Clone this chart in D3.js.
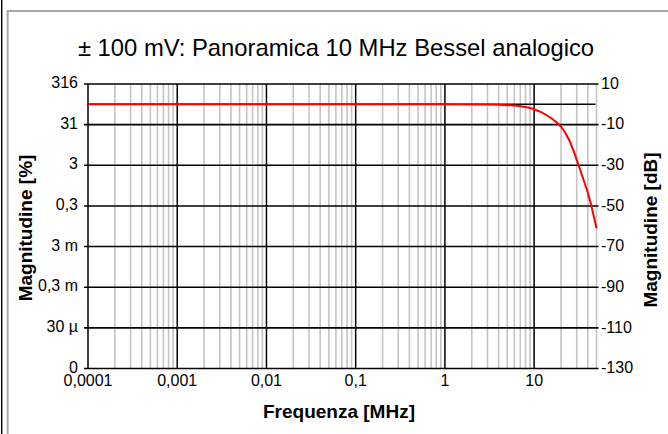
<!DOCTYPE html>
<html>
<head>
<meta charset="utf-8">
<script src="https://cdn.jsdelivr.net/npm/d3@7"></script>
<style>
  html, body { margin: 0; padding: 0; background: #fff; }
  svg { display: block; }
  text { font-family: "Liberation Sans", Arial, sans-serif; fill: #000; }
</style>
</head>
<body>
<script>
// Frequency axis: decades with labels (Italian decimal comma)
const decades = [0.0001, 0.001, 0.01, 0.1, 1, 10];
const decadeLabels = ["0,0001", "0,001", "0,01", "0,1", "1", "10"];

// Magnitude axis: gridlines every 20 dB, with percent equivalents on the left
const dbTicks = [10, -10, -30, -50, -70, -90, -110, -130];
const dbLabels = ["10", "-10", "-30", "-50", "-70", "-90", "-110", "-130"];
const pctLabels = ["316", "31", "3", "0,3", "3 m", "0,3 m", "30 µ", "0"];
const extraDbLines = [0];

// Measured response of the 10 MHz analog Bessel filter (± 100 mV range)
const freqMHz = [0.0001, 0.001, 0.01, 0.1, 1, 2, 3, 4, 5, 6, 7, 8, 9, 10, 12, 14, 16, 18, 20, 22, 25, 28, 30, 33, 36, 40, 43, 46, 50];
const magDb   = [0, 0, 0, 0, 0, -0.05, -0.1, -0.2, -0.4, -0.6, -0.9, -1.3, -1.8, -2.4, -3.8, -5.5, -7.2, -9, -11, -13.5, -18, -23.5, -27.3, -32.5, -37.5, -43.5, -48.5, -54, -61];

const W = 668, H = 434;
const svg = d3.select("body").append("svg").attr("width", W).attr("height", H);

// Outer frame
svg.append("line").attr("x1", 1.7).attr("x2", 1.7).attr("y1", 0).attr("y2", H)
  .attr("stroke", "#000").attr("stroke-width", 1.4);
svg.append("path").attr("d", `M7.7,${H} V11 H${W}`)
  .attr("fill", "none").attr("stroke", "#a8a8a8").attr("stroke-width", 2);

const x = d3.scaleLog().domain([0.0001, 50]).range([88, 596.5]);
const y = d3.scaleLinear().domain([10, -130]).range([84, 368.5]);
const [x0, x1] = x.range();

// Minor vertical gridlines (2..9 in every decade)
const minor = [];
decades.forEach(d => { for (let k = 2; k <= 9; k++) { const v = d * k; if (v <= 50.0001) minor.push(v); } });
svg.append("g").selectAll("line").data(minor).join("line")
  .attr("x1", d => x(d)).attr("x2", d => x(d))
  .attr("y1", y(10)).attr("y2", y(-130))
  .attr("stroke", "#c4c4c4").attr("stroke-width", 1.6);

// Major vertical gridlines at decades
svg.append("g").selectAll("line").data(decades).join("line")
  .attr("x1", d => x(d)).attr("x2", d => x(d))
  .attr("y1", y(10)).attr("y2", y(-130))
  .attr("stroke", "#000").attr("stroke-width", 1.5);

// Horizontal gridlines with ticks on both sides
svg.append("g").selectAll("line").data(dbTicks).join("line")
  .attr("x1", x0 - 4).attr("x2", x1 + 2)
  .attr("y1", d => y(d)).attr("y2", d => y(d))
  .attr("stroke", "#000").attr("stroke-width", 1.6);
svg.append("g").selectAll("line").data(extraDbLines).join("line")
  .attr("x1", x0).attr("x2", x1 - 1)
  .attr("y1", d => y(d)).attr("y2", d => y(d))
  .attr("stroke", "#000").attr("stroke-width", 1.6);

// Response curve
const line = d3.line().x((d, i) => x(freqMHz[i])).y(d => y(d));
svg.append("path").datum(magDb).attr("d", line)
  .attr("fill", "none").attr("stroke", "#ff0000").attr("stroke-width", 2);

// Left tick labels (percent)
svg.append("g").selectAll("text").data(dbTicks).join("text")
  .attr("x", 78).attr("y", d => y(d)).attr("dy", "0.26em")
  .attr("text-anchor", "end").attr("font-size", 16)
  .text((d, i) => pctLabels[i]);

// Right tick labels (dB)
svg.append("g").selectAll("text").data(dbTicks).join("text")
  .attr("x", 601).attr("y", d => y(d)).attr("dy", "0.3em")
  .attr("text-anchor", "start").attr("font-size", 16)
  .text((d, i) => dbLabels[i]);

// Bottom tick labels
svg.append("g").selectAll("text").data(decades).join("text")
  .attr("x", d => x(d)).attr("y", 386)
  .attr("text-anchor", "middle").attr("font-size", 16)
  .text((d, i) => decadeLabels[i]);

// Title and axis titles
svg.append("text").attr("x", 336).attr("y", 56)
  .attr("text-anchor", "middle").attr("font-size", 23.8)
  .text("± 100 mV: Panoramica 10 MHz Bessel analogico");
svg.append("text").attr("x", 339).attr("y", 418)
  .attr("text-anchor", "middle").attr("font-size", 19).attr("font-weight", "bold")
  .text("Frequenza [MHz]");
svg.append("text").attr("transform", "translate(32,228) rotate(-90)")
  .attr("text-anchor", "middle").attr("font-size", 19).attr("font-weight", "bold")
  .text("Magnitudine [%]");
svg.append("text").attr("transform", "translate(657,230) rotate(-90)")
  .attr("text-anchor", "middle").attr("font-size", 19).attr("font-weight", "bold")
  .text("Magnitudine [dB]");
</script>
</body>
</html>
